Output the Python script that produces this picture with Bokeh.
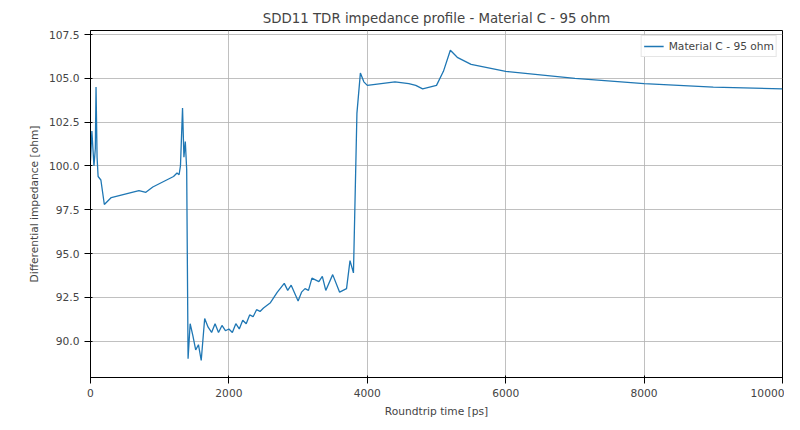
from bokeh.plotting import figure
from bokeh.embed import file_html
from bokeh.resources import INLINE
from bokeh.models import Range1d, CustomJSTickFormatter

time_ps = [0,20,50,70,80,95,110,150,200,250,300,400,500,600,700,800,900,1000,1100,1200,1250,1280,1300,1330,1350,1370,1390,1410,1440,1480,1520,1560,1600,1650,1700,1750,1800,1850,1900,1950,2000,2050,2100,2150,2200,2250,2300,2350,2400,2450,2500,2600,2700,2800,2850,2900,3000,3050,3100,3150,3200,3300,3350,3400,3500,3600,3700,3750,3800,3850,3900,3950,4000,4200,4400,4600,4700,4800,5000,5100,5200,5300,5500,6000,7000,8000,9000,10000]
impedance = [100.3,102.0,100.0,101.0,104.5,100.5,99.4,99.2,97.8,98.0,98.2,98.3,98.4,98.5,98.6,98.5,98.8,99.0,99.2,99.4,99.6,99.5,100.0,103.3,100.5,101.4,99.8,89.0,91.0,90.3,89.5,89.8,88.9,91.3,90.8,90.5,91.0,90.5,90.9,90.6,90.7,90.5,91.0,90.7,91.2,91.0,91.5,91.4,91.8,91.7,91.9,92.2,92.8,93.3,92.9,93.2,92.3,92.8,93.0,92.9,93.6,93.4,93.7,92.9,93.8,92.8,93.0,94.6,93.9,103.0,105.3,104.8,104.6,104.7,104.8,104.7,104.6,104.4,104.6,105.4,106.6,106.2,105.8,105.4,105.0,104.7,104.5,104.4]
label = "Material C - 95 ohm"

p = figure(width=784, height=420, output_backend="svg", toolbar_location=None,
           title="SDD11 TDR impedance profile - Material C - 95 ohm",
           x_axis_label="Roundtrip time [ps]", y_axis_label="Differential impedance [ohm]",
           x_range=Range1d(0, 10000), y_range=Range1d(87.93, 107.73))
p.line(time_ps, impedance, line_color="#1f77b4", line_width=1.3, legend_label=label)
p.title.align = "center"
p.title.text_font = "DejaVu Sans"
p.title.text_font_style = "normal"
p.title.text_font_size = "10pt"
for ax in (p.xaxis, p.yaxis):
    ax.axis_label_text_font = "DejaVu Sans"
    ax.axis_label_text_font_style = "normal"
    ax.axis_label_text_font_size = "8pt"
    ax.major_label_text_font = "DejaVu Sans"
    ax.major_label_text_font_size = "8pt"
    ax.minor_tick_line_color = None
p.xaxis.ticker = [0, 2000, 4000, 6000, 8000, 10000]
p.yaxis.ticker = [90.0, 92.5, 95.0, 97.5, 100.0, 102.5, 105.0, 107.5]
p.yaxis.formatter = CustomJSTickFormatter(code="return tick.toFixed(1);")
p.grid.grid_line_color = "#b0b0b0"
p.grid.grid_line_alpha = 0.8
p.outline_line_color = "black"
p.legend.location = "top_right"
p.legend.label_text_font = "DejaVu Sans"
p.legend.label_text_font_size = "8pt"
p.legend.border_line_color = "#cccccc"
p.legend.padding = 2
p.legend.spacing = 0
p.legend.margin = 5
p.legend.glyph_height = 16
p.legend.label_height = 16
p.min_border_left = 90
p.min_border_right = 2
p.min_border_top = 30
open("out.html", "w").write(file_html(p, INLINE))
